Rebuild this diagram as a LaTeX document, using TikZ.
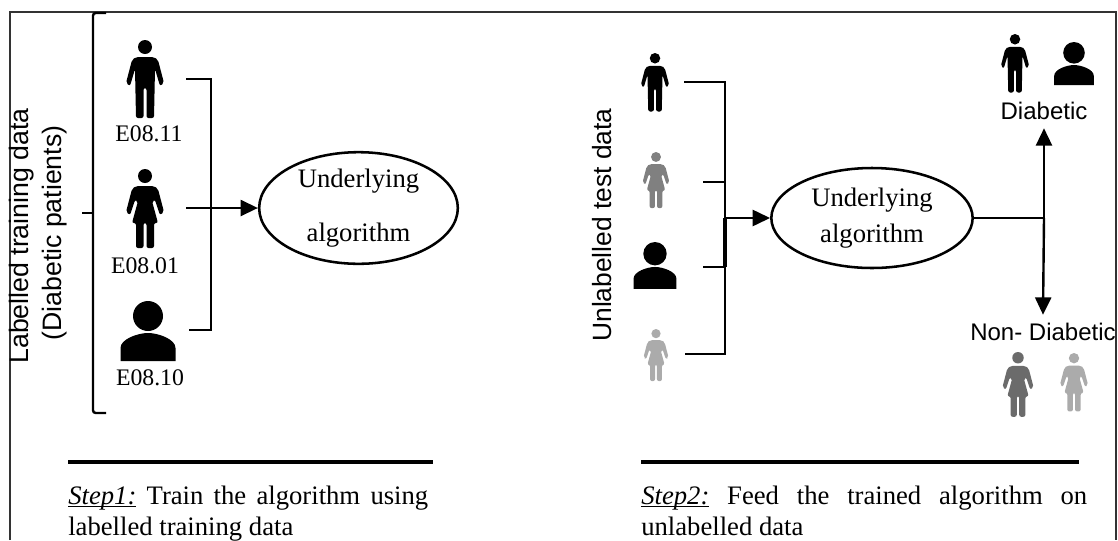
\documentclass[tikz,border=0pt]{standalone}
\usepackage{fontspec}
\setmainfont{Liberation Serif}
\setsansfont{Liberation Sans}
\usepackage{xcolor}
\usepackage{tikz}
\usetikzlibrary{shapes.geometric,arrows.meta}

\definecolor{midgrey}{gray}{0.5}
\definecolor{lightgrey}{gray}{0.67}
\definecolor{darkgrey}{gray}{0.42}

\tikzset{
  man/.pic={
    \fill[pic actions] (0,7) circle (7);
    \fill[pic actions, rounded corners=1.5] (-9,17) -- (9,17) -- (13,20) -- (19,43) -- (15,46) -- (10,29)
      -- (9,78) -- (1.5,78) -- (1.5,48) -- (-1.5,48) -- (-1.5,78) -- (-9,78) -- (-10,29)
      -- (-15,46) -- (-19,43) -- (-13,20) -- cycle;
  },
  woman/.pic={
    \fill[pic actions] (0,7) circle (7);
    \fill[pic actions, rounded corners=1.5] (-9,17) -- (9,17) -- (13,20) -- (19,43) -- (15,46) -- (10,31) -- (7,32)
      -- (13,54) -- (9,54) -- (9,79) -- (1.5,79) -- (1.5,54) -- (-1.5,54) -- (-1.5,79) -- (-9,79) -- (-9,54) -- (-13,54)
      -- (-7,32) -- (-10,31) -- (-15,46) -- (-19,43) -- (-13,20) -- cycle;
  },
  bust/.pic={
    \fill[pic actions] (0,15) circle (15);
    \fill[pic actions] (-27.5,60) -- (-27.5,47) .. controls (-27.5,38) and (-10,32) .. (0,32)
      .. controls (10,32) and (27.5,38) .. (27.5,47) -- (27.5,60) -- cycle;
  },
  algo/.style={draw, ellipse, line width=1.9pt, inner sep=0pt, align=center, font=\fontsize{20}{24}\selectfont},
  code/.style={font=\fontsize{17.8}{20}\selectfont},
  sidelabel/.style={rotate=90, font=\sffamily\fontsize{20}{24}\selectfont},
  outcome/.style={outer sep=3pt, font=\sffamily\fontsize{18}{22}\selectfont},
  steptext/.style={anchor=base west, inner sep=0pt, font=\fontsize{20}{24}\selectfont},
  link/.style={line width=1.8pt},
  pointer/.style={line width=1.8pt, -{Triangle[length=13pt,width=12pt]}},
  steprule/.style={line width=3.6pt}
}

\begin{document}
\begin{tikzpicture}[x=0.75pt, y=-0.75pt]
  \useasboundingbox (0,0) rectangle (1118,540);

  % frame
  \coordinate (fa) at (10,540);
  \coordinate (fb) at (10,12);
  \coordinate (fc) at (1116,12);
  \coordinate (fd) at (1116,540);
  \draw[line width=0.8pt, black!80] (fa) -- (fb) -- (fc) -- (fd);

  % step 1
  \node[sidelabel] (train1) at (22,236) {Labelled training data};
  \node[sidelabel] (train2) at (55,233) {(Diabetic patients)};

  \pic (m1) at (145,40) {man};
  \pic (w1) at (145,169) {woman};
  \pic (b1) at (148,301) {bust};
  \node[code] (c1) at (149,134) {E08.11};
  \node[code] (c2) at (145,266) {E08.01};
  \node[code] (c3) at (150,378) {E08.10};

  \node[algo, minimum width=149pt, minimum height=75pt] (alg1) at (358.5,208) {Underlying\\[17pt]algorithm};

  \coordinate (ba) at (106,13);
  \coordinate (bb) at (93,13);
  \coordinate (bc) at (93,413);
  \coordinate (bd) at (106,413);
  \coordinate (be) at (93,213);
  \coordinate (bf) at (82,213);
  \draw[link, rounded corners=2pt] (ba) -- (bb) -- (bc) -- (bd);
  \draw[link] (bf) -- (be);

  \coordinate (ka) at (186,79);
  \coordinate (kb) at (211,79);
  \coordinate (kc) at (211,330);
  \coordinate (kd) at (189,330);
  \coordinate (ke) at (186,208);
  \draw[link] (ka) -- (kb) -- (kc) -- (kd);
  \draw[pointer] (ke) -- (alg1.west);

  \coordinate (ra) at (68,462);
  \coordinate (rb) at (433,462);
  \draw[steprule] (ra) -- (rb);
  \node[steptext] (s1a) at (68,504) {\makebox[270pt][s]{\underline{\smash{\textit{Step1:}}} Train the algorithm using}};
  \node[steptext] (s1b) at (68,535) {labelled training data};

  % step 2
  \node[sidelabel, font=\sffamily\fontsize{19.8}{23}\selectfont] (test1) at (602,225) {Unlabelled test data};

  \pic[scale=0.75] (m2) at (655,53) {man};
  \pic[scale=0.71, fill=midgrey] (w2) at (656,152) {woman};
  \pic[scale=0.78] (b2) at (655,242) {bust};
  \pic[scale=0.66, fill=lightgrey] (w3) at (656,329) {woman};

  \node[algo, minimum width=151pt, minimum height=75pt] (alg2) at (872,218) {Underlying\\[3.5pt]algorithm};

  \coordinate (ta) at (684,82);
  \coordinate (tb) at (725,82);
  \coordinate (tc) at (725,354);
  \coordinate (td) at (685,354);
  \coordinate (te) at (703,182);
  \coordinate (tf) at (725,182);
  \coordinate (tg) at (703,267);
  \coordinate (th) at (725,267);
  \coordinate (ti) at (725,218);
  \draw[link] (ta) -- (tb) -- (tc) -- (td);
  \draw[link] (te) -- (tf);
  \draw[link] (tg) -- (th);
  \draw[line width=2.6pt] (ti) -- (th);
  \draw[pointer] (ti) -- (alg2.west);

  \coordinate (oa) at (1044,218);
  \node[outcome] (diab) at (1044,111) {Diabetic};
  \node[outcome] (nondiab) at (1043,332) {Non- Diabetic};
  \draw[link] (alg2.east) -- (oa);
  \draw[pointer] (oa) -- (diab.south);
  \draw[pointer] (oa) -- (nondiab.north);

  \pic[scale=0.75] (m3) at (1015,34) {man};
  \pic[scale=0.72] (b3) at (1074,42) {bust};
  \pic[scale=0.82, fill=darkgrey] (w4) at (1018,352) {woman};
  \pic[scale=0.74, fill=lightgrey] (w5) at (1074,353) {woman};

  \coordinate (rc) at (641,462);
  \coordinate (rd) at (1079,462);
  \draw[steprule] (rc) -- (rd);
  \node[steptext] (s2a) at (641,504) {\makebox[334.5pt][s]{\underline{\smash{\textit{Step2:}}} Feed the trained algorithm on}};
  \node[steptext] (s2b) at (641,535) {unlabelled data};
\end{tikzpicture}
\end{document}
